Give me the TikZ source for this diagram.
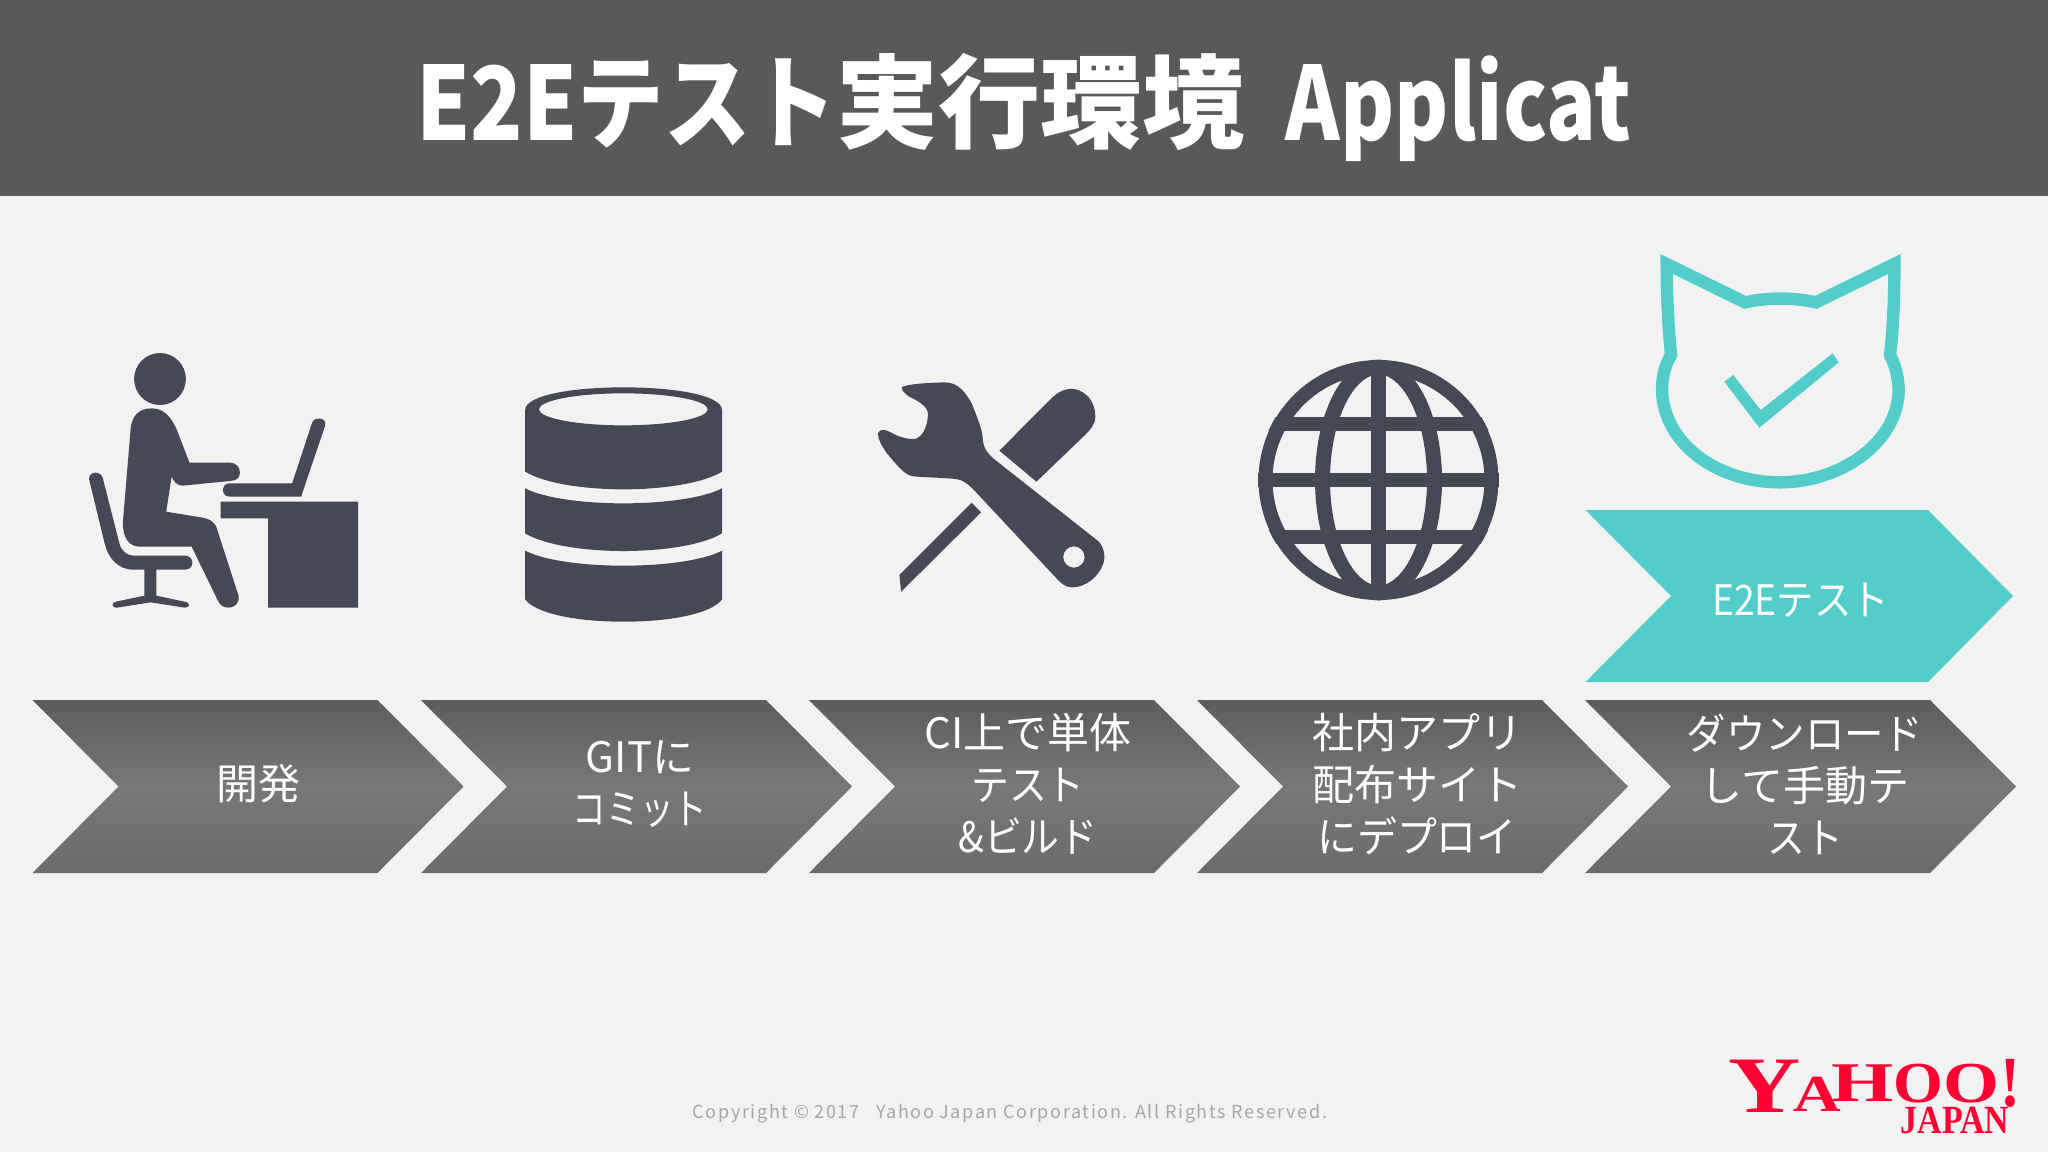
\documentclass[tikz,border=0pt]{standalone}
\usepackage{fontspec}
\setmainfont{Noto Sans CJK JP}
\newfontfamily\logofont{Liberation Serif}[BoldFont={Liberation Serif Bold}]
\usetikzlibrary{calc}

\definecolor{pagebg}{HTML}{F2F2F3}
\definecolor{headbar}{HTML}{595959}
\definecolor{iconcol}{HTML}{464855}
\definecolor{tealcol}{HTML}{53CDC9}
\definecolor{footgray}{HTML}{A6A6A6}
\definecolor{yahoored}{HTML}{FF0033}

\tikzset{
  chevshade/.style={top color=black!64!white,bottom color=black!58!white,middle color=black!53!white},
  chevtext/.style={text=white,align=center,font=\fontsize{21}{26}\selectfont,inner sep=0pt},
  icon/.style={fill=iconcol,draw=none},
  logoletter/.style={text=yahoored,inner sep=0pt,font=\logofont\bfseries\fontsize{10}{10}\selectfont},
}

% x0 = left edge of the chevron, y0/y1 = top and bottom
\newcommand{\chevronshape}[3]{(#1,#2) -- ({#1+345},#2) -- ({#1+431},{(#2+#3)/2}) -- ({#1+345},#3) -- (#1,#3) -- ({#1+86},{(#2+#3)/2}) -- cycle}
% narrower setting for kana and latin runs
\newcommand{\narrowrun}[2]{{\addfontfeature{FakeStretch=#1}#2}}

\begin{document}
\begin{tikzpicture}[x=0.5pt,y=-0.5pt]
  \useasboundingbox (0,0) rectangle (2048,1152);
  \fill[pagebg] (0,0) rectangle (2048,1152);
  \fill[headbar] (0,0) rectangle (2048,196);
  \node[text=white,inner sep=0pt,font=\fontsize{51}{60}\selectfont\bfseries] (title) at (1024,107)
    {\narrowrun{0.846}{E2Eテスト}実行環境 \hspace{9pt}\narrowrun{0.81}{Applicat}};

  % row of steps
  \path[chevshade] \chevronshape{32.5}{700}{873};
  \path[chevshade] \chevronshape{421}{700}{873};
  \path[chevshade] \chevronshape{809}{700}{873};
  \path[chevshade] \chevronshape{1197}{700}{873};
  \path[chevshade] \chevronshape{1585}{700}{873};
  \node[chevtext] (dev) at (258,784) {開発};
  \node[chevtext] (git) at (640,784) {GITに\\\narrowrun{0.8}{コミット}};
  \node[chevtext] (ci) at (1028,784) {CI上で単体\\\narrowrun{0.9}{テスト}\\\narrowrun{0.9}{\&ビルド}};
  \node[chevtext] (deploy) at (1417,784) {社内アプリ\\配布サイト\\\narrowrun{0.95}{にデプロイ}};
  \node[chevtext] (manual) at (1805,784) {\narrowrun{0.94}{ダウンロード}\\して手動テ\\\narrowrun{0.9}{スト}};

  % the raised step
  \fill[tealcol] (1585.5,510) -- (1928,510) -- (2013,596) -- (1928,682) -- (1585.5,682) -- (1671,596) -- cycle;
  \node[chevtext] (e2e) at (1800.5,600) {\narrowrun{0.89}{E2Eテスト}};

  % person at desk
  \begin{scope}[shift={(60,330)},x=0.2232pt,y=-0.16667pt]
    \fill[icon] (224,147) ellipse [x radius=58,y radius=78];
    \fill[icon] (205,235) .. controls (235,235) and (250,265) .. (262,300) -- (290,398) -- (380,398)
      .. controls (395,398) and (403,412) .. (403,428) .. controls (403,445) and (395,452) .. (380,453)
      -- (275,467) .. controls (262,467) and (255,455) .. (250,440) -- (238,545) -- (320,563)
      .. controls (335,567) and (345,575) .. (350,590) -- (400,797) .. controls (403,820) and (390,833) .. (378,833)
      .. controls (365,833) and (358,825) .. (353,810) -- (295,650) -- (180,650)
      .. controls (155,650) and (140,625) .. (141,575) -- (158,300) .. controls (160,260) and (175,235) .. (205,235) -- cycle;
    \fill[icon] (65,447) .. controls (65,422) and (92,422) .. (96,445) -- (133,640)
      .. controls (138,665) and (150,677) .. (170,677) -- (280,677) .. controls (302,677) and (302,719) .. (280,719)
      -- (216,719) -- (216,797) -- (283,816) .. controls (292,820) and (290,833) .. (280,833) -- (203,817)
      -- (127,833) .. controls (115,833) and (115,818) .. (125,815) -- (189,797) -- (189,719) -- (165,719)
      .. controls (130,719) and (108,685) .. (100,640) -- cycle;
    \fill[icon] (380,460) -- (520,460) -- (565,277) .. controls (572,258) and (598,262) .. (594,287) -- (540,500) -- (380,500)
      .. controls (360,500) and (360,460) .. (380,460) -- cycle;
    \fill[icon] (360,515) -- (668,515) -- (668,833) -- (466,833) -- (466,565) -- (360,565) -- cycle;

    % database
    \fill[icon,even odd rule] (1042,240) .. controls (1042,195) and (1150,172) .. (1262,172) .. controls (1375,172) and (1483,195) .. (1483,240)
      -- (1483,425) .. controls (1440,460) and (1350,478) .. (1262,478) .. controls (1175,478) and (1085,460) .. (1042,425) -- cycle
      (1262,238) ellipse [x radius=189,y radius=48];
    \fill[icon] (1042,475) .. controls (1085,505) and (1175,520) .. (1262,520) .. controls (1350,520) and (1440,505) .. (1483,475)
      -- (1483,610) .. controls (1440,645) and (1350,663) .. (1262,663) .. controls (1175,663) and (1085,645) .. (1042,610) -- cycle;
    \fill[icon] (1042,662) .. controls (1085,692) and (1175,707) .. (1262,707) .. controls (1350,707) and (1440,692) .. (1483,662)
      -- (1483,808) .. controls (1460,850) and (1370,875) .. (1262,875) .. controls (1155,875) and (1065,850) .. (1042,808) -- cycle;
  \end{scope}

  % wrench and screwdriver
  \begin{scope}[shift={(840,240)},x=0.2232pt,y=-0.16667pt]
    \fill[icon,even odd rule] (140,440) .. controls (160,430) and (210,428) .. (235,427) .. controls (265,428) and (280,455) .. (295,490)
      .. controls (305,525) and (320,570) .. (320,600) .. controls (322,630) and (335,645) .. (345,657) -- (580,905)
      .. controls (592,925) and (595,945) .. (590,970) .. controls (580,1010) and (550,1042) .. (520,1042)
      .. controls (505,1042) and (495,1030) .. (485,1015) -- (300,750) .. controls (285,730) and (275,720) .. (260,717)
      .. controls (220,712) and (180,712) .. (160,708) .. controls (140,700) and (125,670) .. (105,640)
      .. controls (95,620) and (85,600) .. (85,580) .. controls (90,565) and (100,568) .. (115,578)
      .. controls (130,590) and (150,598) .. (168,597) .. controls (185,590) and (197,560) .. (197,520)
      .. controls (195,495) and (170,480) .. (155,470) .. controls (140,455) and (135,445) .. (140,440) -- cycle
      (524,951) ellipse [x radius=24,y radius=32];
    \fill[icon] (357,632) -- (470,480) .. controls (490,450) and (510,445) .. (525,447) .. controls (555,455) and (572,490) .. (572,530)
      .. controls (572,555) and (560,570) .. (545,590) -- (440,725) -- cycle;
    \fill[icon] (295,788) -- (316,817) -- (137,1055) -- (133,1005) -- cycle;
  \end{scope}

  % globe
  \begin{scope}
    \clip (1378.5,480) circle [radius=120.5];
    \draw[iconcol,line width=7pt] (1378.5,480) circle [x radius=113,y radius=113];
    \draw[iconcol,line width=7.5pt] (1378.5,480) circle [x radius=56,y radius=113];
    \draw[iconcol,line width=7.2pt] (1378.5,360) -- (1378.5,600);
    \draw[iconcol,line width=7.2pt] (1258,424) -- (1499,424);
    \draw[iconcol,line width=7.2pt] (1258,480) -- (1499,480);
    \draw[iconcol,line width=7.2pt] (1258,537) -- (1499,537);
  \end{scope}

  % cat with tick
  \begin{scope}[shift={(1560,240)},x=0.16667pt,y=-0.16667pt]
    \draw[tealcol,line width=6.2pt,line join=miter,miter limit=10] (320,72) -- (555,187) .. controls (625,172) and (700,172) .. (768,187) -- (1003,72)
      .. controls (1003,170) and (1000,260) .. (990,345) .. controls (1008,380) and (1016,420) .. (1016,455)
      .. controls (1010,610) and (840,727) .. (660,727) .. controls (470,727) and (310,610) .. (306,450)
      .. controls (306,410) and (315,375) .. (333,345) .. controls (325,260) and (320,170) .. (320,72) -- cycle;
    \fill[tealcol] (493,425) -- (598,563) -- (836,367) -- (818,340) -- (602,510) -- (520,405) -- cycle;
  \end{scope}

  % footer
  \node[text=footgray,inner sep=0pt,font=\fontsize{9}{10}\selectfont\addfontfeature{LetterSpace=9}] (copyright) at (1010,1114) {Copyright © 2017\ \ \ Yahoo Japan Corporation. All Rights Reserved.};

  % logo
  \node[logoletter,xscale=5,yscale=4] (logoY) at (1765,1086) {Y};
  \node[logoletter,xscale=3.3,yscale=2.6] (logoA) at (1817,1094) {A};
  \node[logoletter,xscale=4,yscale=2.8] (logoH) at (1863,1083) {H};
  \node[logoletter,xscale=3.2,yscale=2.9] (logoOa) at (1918,1084) {O};
  \node[logoletter,xscale=3.6,yscale=2.9] (logoOb) at (1971,1084) {O};
  \node[logoletter,xscale=3,yscale=3.6] (logoEx) at (2010,1083) {!};
  \node[logoletter,xscale=1.7,yscale=2] (logoJ) at (1955,1120) {JAPAN};
\end{tikzpicture}
\end{document}
